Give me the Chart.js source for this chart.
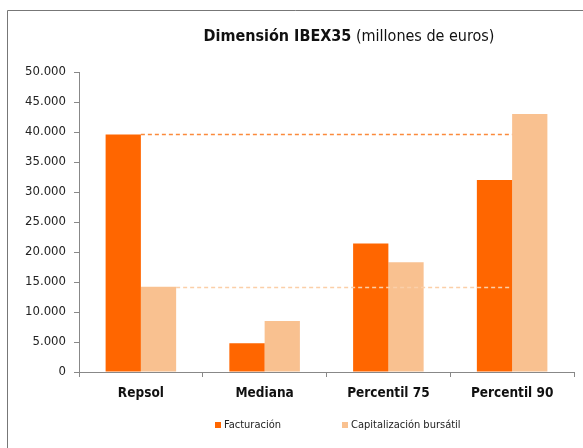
<!DOCTYPE html>
<html>
<head>
<meta charset="utf-8">
<script src="https://cdn.jsdelivr.net/npm/chart.js@4.4.0/dist/chart.umd.min.js"></script>
<style>
  html, body { margin: 0; padding: 0; background: #fff; }
  #wrap { width: 583px; height: 448px; }
</style>
</head>
<body>
<div id="wrap"><canvas id="myChart" width="583" height="448"></canvas></div>
<script>
var categories = ['Repsol', 'Mediana', 'Percentil 75', 'Percentil 90'];
var facturacion = [39600, 4800, 21400, 32000];
var capitalizacion = [14200, 8500, 18300, 43000];
var seriesNames = ['Facturación', 'Capitalización bursátil'];
var titleBold = 'Dimensión IBEX35';
var titleRest = ' (millones de euros)';

var FONT = "'Liberation Sans Narrow', 'Arial Narrow', 'DejaVu Sans Condensed', sans-serif";
var dark = '#ff6600';
var light = '#f9c190';

function fmt(v) {
  return String(v).replace(/\B(?=(\d{3})+(?!\d))/g, '.');
}

// frame, title, reference lines and legend
var extras = {
  id: 'extras',
  beforeDraw: function(chart) {
    var c = chart.ctx;
    c.save();
    c.strokeStyle = '#777';
    c.lineWidth = 1;
    c.beginPath();
    c.moveTo(7.5, 448);
    c.lineTo(7.5, 10.5);
    c.lineTo(583, 10.5);
    c.stroke();
    c.restore();
  },
  afterDatasetsDraw: function(chart) {
    var c = chart.ctx;
    var m0 = chart.getDatasetMeta(0).data;
    var m1 = chart.getDatasetMeta(1).data;
    var last = m0.length - 1;
    c.save();
    c.lineWidth = 1.5;
    c.setLineDash([4, 3]);
    // Repsol facturación level
    var y0 = Math.round(m0[0].y) + 0.5;
    c.strokeStyle = '#fb8a3c';
    c.beginPath();
    c.moveTo(m0[0].x + m0[0].width / 2, y0);
    c.lineTo(m0[last].x + m0[last].width / 2, y0);
    c.stroke();
    // Repsol capitalización level
    var y1 = Math.round(m1[0].y) + 0.5;
    c.strokeStyle = '#fbcfa8';
    c.beginPath();
    c.moveTo(m1[0].x + m1[0].width / 2, y1);
    c.lineTo(m1[last].x - m1[last].width / 2, y1);
    c.stroke();
    c.restore();
  },
  afterDraw: function(chart) {
    var c = chart.ctx;
    c.save();
    // title, bold part + normal part
    c.textBaseline = 'middle';
    c.fillStyle = '#111';
    c.font = 'bold 16px ' + FONT;
    var wb = c.measureText(titleBold).width;
    c.font = '16px ' + FONT;
    var wr = c.measureText(titleRest).width;
    var x = 349 - (wb + wr) / 2;
    c.font = 'bold 16px ' + FONT;
    c.fillText(titleBold, x, 37);
    c.font = '16px ' + FONT;
    c.fillText(titleRest, x + wb, 37);
    // legend
    c.font = '11px ' + FONT;
    var lx = [215, 342];
    chart.data.datasets.forEach(function(ds, i) {
      c.fillStyle = ds.backgroundColor;
      c.fillRect(lx[i], 422, 6, 6);
      c.fillStyle = '#222';
      c.fillText(ds.label, lx[i] + 9, 425.5);
    });
    c.restore();
  }
};

var ctx = document.getElementById('myChart').getContext('2d');
var myChart = new Chart(ctx, {
  type: 'bar',
  data: {
    labels: categories,
    datasets: [{
      label: seriesNames[0],
      data: facturacion,
      backgroundColor: dark,
      borderWidth: 0
    }, {
      label: seriesNames[1],
      data: capitalizacion,
      backgroundColor: light,
      borderWidth: 0
    }]
  },
  options: {
    responsive: false,
    animation: false,
    events: [],
    layout: { padding: { left: 0, right: 9, top: 72, bottom: 46 } },
    datasets: { bar: { categoryPercentage: 0.57, barPercentage: 1 } },
    plugins: {
      legend: { display: false },
      title: { display: false },
      tooltip: { enabled: false }
    },
    scales: {
      x: {
        afterFit: function(s) { s.height = 30; },
        grid: { drawOnChartArea: false, tickLength: 5, color: '#888', offset: true },
        border: { color: '#888', width: 1 },
        ticks: {
          padding: 8,
          color: '#111',
          font: { family: FONT, size: 13.5, weight: 'bold' }
        }
      },
      y: {
        min: 0,
        max: 50000,
        afterFit: function(s) { s.width = 79; },
        grid: { drawOnChartArea: false, tickLength: 5, color: '#888' },
        border: { color: '#888', width: 1 },
        ticks: {
          stepSize: 5000,
          padding: 8,
          color: '#222',
          font: { family: FONT, size: 13 },
          callback: function(v) { return fmt(v); }
        }
      }
    }
  },
  plugins: [extras]
});
</script>
</body>
</html>
